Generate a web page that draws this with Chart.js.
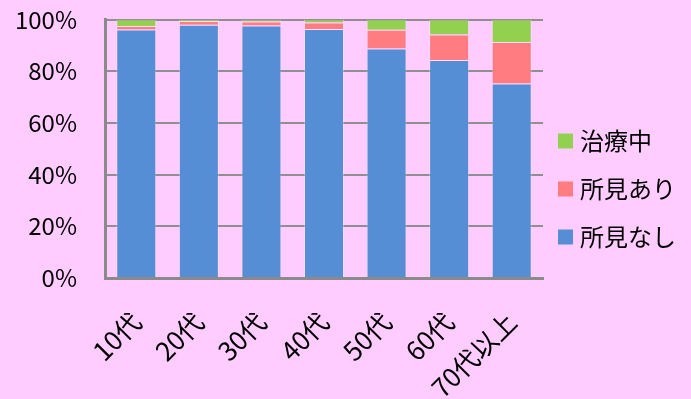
<!DOCTYPE html>
<html>
<head>
<meta charset="utf-8">
<script src="https://cdn.jsdelivr.net/npm/chart.js@4"></script>
<style>
html,body{margin:0;padding:0;background:#FFCCFF;}
#wrap{width:691px;height:399px;}
</style>
</head>
<body>
<div id="wrap"><canvas id="c" width="691" height="399"></canvas></div>
<script>
const categories = ['10代','20代','30代','40代','50代','60代','70代以上'];
const seriesNames = ['所見なし','所見あり','治療中'];
const noFinding = [96.1, 98.0, 97.7, 96.3, 88.8, 84.3, 75.2];
const finding = [1.4, 1.4, 1.5, 2.5, 7.2, 9.9, 16.1];
const treating = [2.5, 0.6, 0.8, 1.2, 4.0, 5.8, 8.7];
const yTicks = [0, 20, 40, 60, 80, 100];
const colors = ['#558ED5', '#FF7C80', '#92D050'];

const FONT = '"Noto Sans CJK JP", "Noto Sans", sans-serif';

const legendPlugin = {
  id: 'sideLegend',
  afterDraw(chart) {
    const ctx = chart.ctx;
    const ds = chart.data.datasets;
    const x0 = 558, box = 15, rowH = 48, yStart = 141;
    ctx.save();
    ctx.font = '24px ' + FONT;
    ctx.textBaseline = 'middle';
    ctx.textAlign = 'left';
    for (let i = 0; i < ds.length; i++) {
      const d = ds[ds.length - 1 - i];
      const cy = yStart + i * rowH;
      ctx.fillStyle = d.backgroundColor;
      ctx.fillRect(x0, cy - box / 2, box, box);
      ctx.fillStyle = '#000';
      ctx.fillText(d.label, x0 + 22, cy);
    }
    ctx.restore();
  }
};

const datasets = [noFinding, finding, treating].map((vals, i) => ({
  label: seriesNames[i],
  data: vals,
  backgroundColor: colors[i],
  borderColor: 'rgba(255,255,255,0.3)',
  borderWidth: 1,
  categoryPercentage: 1,
  barPercentage: 0.64
}));

new Chart(document.getElementById('c'), {
  type: 'bar',
  data: { labels: categories, datasets },
  plugins: [legendPlugin],
  options: {
    responsive: false,
    animation: false,
    layout: { autoPadding: false, padding: { left: 0, top: 19.5, right: 148, bottom: 0 } },
    plugins: { legend: { display: false }, tooltip: { enabled: false } },
    scales: {
      x: {
        stacked: true,
        grid: { display: false, drawTicks: false },
        border: { display: true, color: '#8a8a8a', width: 3 },
        ticks: {
          color: '#000',
          font: { family: FONT, size: 26 },
          maxRotation: 45, minRotation: 45,
          padding: 28,
          autoSkip: false
        },
        afterFit(scale) {
          scale.height = 121;
          scale.paddingLeft = 0; scale.paddingRight = 0;
          scale.paddingTop = 0; scale.paddingBottom = 0;
        }
      },
      y: {
        stacked: true,
        min: 0, max: 100,
        afterBuildTicks(scale) { scale.ticks = yTicks.map(v => ({ value: v })); },
        grid: { color: '#8f8f8f', lineWidth: 2, drawTicks: false },
        border: { display: true, color: '#8a8a8a', width: 3 },
        ticks: {
          color: '#000',
          font: { family: FONT, size: 24 },
          padding: 28,
          callback: v => v + '%'
        },
        afterFit(scale) {
          scale.width = 105;
          scale.paddingTop = 0; scale.paddingBottom = 0;
          scale.paddingLeft = 0; scale.paddingRight = 0;
        }
      }
    }
  }
});
</script>
</body>
</html>
